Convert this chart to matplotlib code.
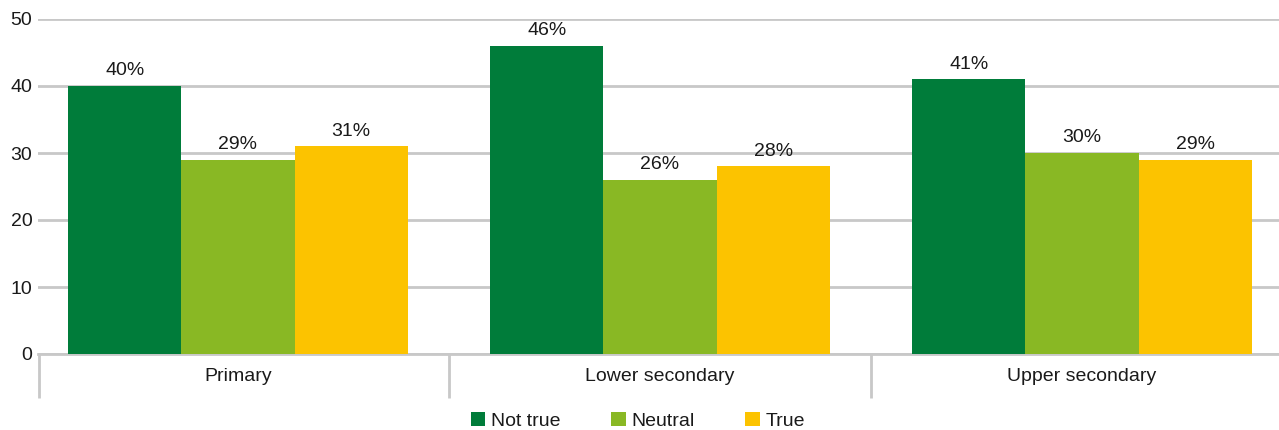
import matplotlib
matplotlib.use("Agg")
import matplotlib.pyplot as plt
import matplotlib.transforms as mtransforms
from matplotlib.patches import Patch
import numpy as np

plt.rcParams['font.family'] = ['Liberation Sans', 'DejaVu Sans']

categories = ["Primary", "Lower secondary", "Upper secondary"]
series_names = ["Not true", "Neutral", "True"]
not_true = [40, 46, 41]
neutral = [29, 26, 30]
true_vals = [31, 28, 29]
y_ticks = [0, 10, 20, 30, 40, 50]

colors = ["#007C3A", "#89B824", "#FCC300"]
text_color = "#1a1a1a"
grid_color = "#c8c8c8"
fs = 14

fig = plt.figure(figsize=(12.79, 4.30), dpi=100)
ax = fig.add_axes([38 / 1279, (430 - 354) / 430, 1 - 38 / 1279, (354 - 19) / 430])

x = np.arange(len(categories))
width = 0.268
series = [not_true, neutral, true_vals]
for i, (vals, name, col) in enumerate(zip(series, series_names, colors)):
    bars = ax.bar(x + (i - 1) * width, vals, width, color=col, label=name, zorder=3)
    for b, v in zip(bars, vals):
        ax.text(b.get_x() + b.get_width() / 2, v + 1.0, f"{v}%",
                ha="center", va="bottom", fontsize=fs, color=text_color)

x_left = -200 / 422
x_right = (1279 - 238) / 422
ax.set_xlim(x_left, x_right)
ax.set_ylim(0, 50)
ax.set_yticks(y_ticks)
ax.yaxis.grid(True, color=grid_color, linewidth=2, zorder=0)
ax.set_axisbelow(True)
for s in ["left", "right", "top"]:
    ax.spines[s].set_visible(False)
ax.spines["bottom"].set_color(grid_color)
ax.spines["bottom"].set_linewidth(2)
ax.tick_params(axis="y", length=0, labelsize=fs, labelcolor=text_color, pad=4)
ax.set_xticks([])

# category labels and separators below the axis
trans = mtransforms.blended_transform_factory(ax.transData, ax.transAxes)
for xc, cat in zip(x, categories):
    ax.text(xc, -0.066, cat, transform=trans, ha="center", va="center",
            fontsize=fs, color=text_color)
for xs in [x_left + 0.002, 0.5, 1.5]:
    ax.plot([xs, xs], [0, -44 / 335], transform=trans, color=grid_color,
            linewidth=2, clip_on=False, solid_capstyle="butt")

handles = [Patch(facecolor=c, edgecolor="none", label=n) for c, n in zip(colors, series_names)]
fig.legend(handles=handles, loc="center", bbox_to_anchor=(638 / 1279, 1 - 421 / 430),
           ncol=3, frameon=False, fontsize=fs, handlelength=0.75, handleheight=0.75,
           handletextpad=0.3, columnspacing=2.6, labelcolor=text_color)

fig.savefig("out.png", dpi=100)
